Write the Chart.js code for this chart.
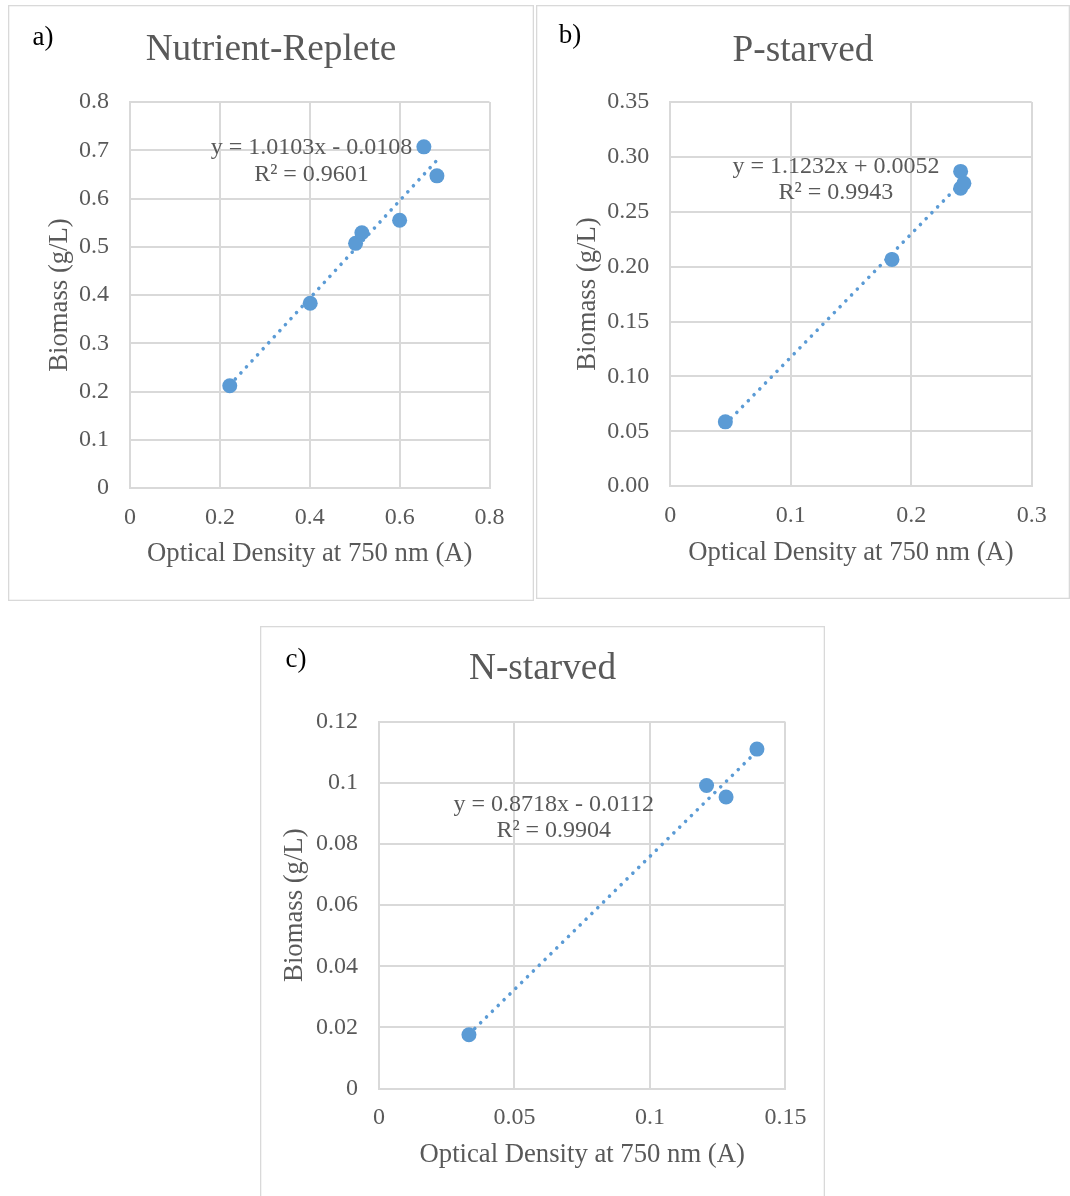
<!DOCTYPE html>
<html><head><meta charset="utf-8">
<script src="https://cdn.jsdelivr.net/npm/chart.js@4.4.1/dist/chart.umd.min.js"></script>
<style>
html,body{margin:0;padding:0;background:#fff;width:1070px;height:1196px;overflow:hidden}
.p{position:absolute}
canvas{display:block}
</style></head><body>
<div class="p" style="left:8px;top:5px"><canvas id="ca" width="526" height="596"></canvas></div>
<div class="p" style="left:536px;top:5px"><canvas id="cb" width="534" height="594"></canvas></div>
<div class="p" style="left:260px;top:626px"><canvas id="cc" width="565" height="570"></canvas></div>
<script>
// ---- data ----
const titleA = 'Nutrient-Replete';
const titleB = 'P-starved';
const titleC = 'N-starved';
const xAxisTitle = 'Optical Density at 750 nm (A)';
const yAxisTitle = 'Biomass (g/L)';

const odA = [0.222, 0.401, 0.502, 0.516, 0.600, 0.654, 0.683];
const bmA = [0.212, 0.383, 0.507, 0.529, 0.555, 0.707, 0.647];
const fitA = [1.0103, -0.0108];
const eqA = ['y = 1.0103x - 0.0108', 'R\u00B2 = 0.9601'];
const xTickValA = [0, 0.2, 0.4, 0.6, 0.8];
const xTickLabA = ['0', '0.2', '0.4', '0.6', '0.8'];
const yTickValA = [0, 0.1, 0.2, 0.3, 0.4, 0.5, 0.6, 0.7, 0.8];
const yTickLabA = ['0', '0.1', '0.2', '0.3', '0.4', '0.5', '0.6', '0.7', '0.8'];

const odB = [0.0457, 0.1840, 0.2410, 0.2410, 0.2437];
const bmB = [0.0586, 0.2066, 0.2868, 0.2714, 0.2759];
const fitB = [1.1232, 0.0052];
const eqB = ['y = 1.1232x + 0.0052', 'R\u00B2 = 0.9943'];
const xTickValB = [0, 0.1, 0.2, 0.3];
const xTickLabB = ['0', '0.1', '0.2', '0.3'];
const yTickValB = [0, 0.05, 0.10, 0.15, 0.20, 0.25, 0.30, 0.35];
const yTickLabB = ['0.00', '0.05', '0.10', '0.15', '0.20', '0.25', '0.30', '0.35'];

const odC = [0.0332, 0.1209, 0.1281, 0.1395];
const bmC = [0.0176, 0.0992, 0.0954, 0.1111];
const fitC = [0.8718, -0.0112];
const eqC = ['y = 0.8718x - 0.0112', 'R\u00B2 = 0.9904'];
const xTickValC = [0, 0.05, 0.1, 0.15];
const xTickLabC = ['0', '0.05', '0.1', '0.15'];
const yTickValC = [0, 0.02, 0.04, 0.06, 0.08, 0.1, 0.12];
const yTickLabC = ['0', '0.02', '0.04', '0.06', '0.08', '0.1', '0.12'];

// ---- styling ----
const FONT = "'Liberation Serif','Times New Roman',serif";
const TXT = '#595959';
const GRID = '#d9d9d9';
const BLUE = '#5b9bd5';

const deco = {
  id: 'deco',
  beforeDraw(chart, args, o) {
    const c = chart.ctx, w = chart.width, h = chart.height;
    c.save();
    c.fillStyle = '#fff'; c.fillRect(0, 0, w, h);
    c.strokeStyle = GRID; c.lineWidth = 1.3;
    c.strokeRect(0.65, 0.65, w - 1.3, h - 1.3 + (o.openBottom ? 4 : 0));
    c.restore();
  },
  afterDatasetsDraw(chart, args, o) {
    const c = chart.ctx;
    const xs = chart.scales.x, ys = chart.scales.y;
    c.save();
    c.fillStyle = TXT; c.font = '24px ' + FONT;
    c.textAlign = 'center'; c.textBaseline = 'middle';
    const px = xs.getPixelForValue(o.eqAt[0]), py = ys.getPixelForValue(o.eqAt[1]);
    o.eq.forEach((t, i) => c.fillText(t, px, py + i * o.eqGap));
    c.fillStyle = '#000'; c.font = '27px ' + FONT;
    c.fillText(o.label, o.labelPos[0], o.labelPos[1]);
    c.restore();
  }
};

function makeChart(id, cfg) {
  const W = cfg.W, H = cfg.H, A = cfg.area; // area: [left, right, top, bottom]
  const tl = 37.3 * 1.2;
  const pts = cfg.od.map((v, i) => ({x: v, y: cfg.bm[i]}));
  const xmin = Math.min(...cfg.od), xmax = Math.max(...cfg.od);
  const trend = [xmin, xmax].map(v => ({x: v, y: cfg.fit[0] * v + cfg.fit[1]}));
  return new Chart(document.getElementById(id), {
    type: 'scatter',
    data: {datasets: [
      {type: 'scatter', data: pts, backgroundColor: BLUE, borderColor: BLUE, borderWidth: 0, pointRadius: 7.5, order: 1},
      {type: 'line', data: trend, borderColor: BLUE, borderWidth: 3.6, borderDash: [0.01, 8.2], borderCapStyle: 'round', pointRadius: 0, fill: false, order: 2}
    ]},
    options: {
      responsive: false, animation: false, devicePixelRatio: 1, events: [],
      layout: {padding: 0},
      plugins: {
        legend: {display: false}, tooltip: {enabled: false},
        title: {display: true, text: cfg.title, color: TXT, font: {family: FONT, size: 37.3, weight: 'normal', lineHeight: 1.2},
          padding: {top: cfg.titleY - tl / 2, bottom: A[2] - (cfg.titleY - tl / 2) - tl}},
        deco: {label: cfg.label, labelPos: cfg.labelPos, eq: cfg.eq, eqAt: cfg.eqAt, eqGap: cfg.eqGap, openBottom: cfg.openBottom}
      },
      scales: {
        x: {
          type: 'linear', min: cfg.xv[0], max: cfg.xv[cfg.xv.length - 1],
          afterBuildTicks: s => { s.ticks = cfg.xv.map(v => ({value: v})); },
          afterFit: s => { s.height = H - A[3]; },
          ticks: {callback: (v, i) => cfg.xl[i], color: TXT, font: {family: FONT, size: 24}, padding: 15, maxRotation: 0, autoSkip: false},
          grid: {color: GRID, lineWidth: 2, drawTicks: false},
          border: {color: GRID, width: 2},
          title: {display: true, text: xAxisTitle, color: TXT, font: {family: FONT, size: 26.7, lineHeight: 1.2},
            padding: {top: 0, bottom: (H - A[3]) - cfg.xTitleOff - 16}}
        },
        y: {
          type: 'linear', min: cfg.yv[0], max: cfg.yv[cfg.yv.length - 1],
          afterBuildTicks: s => { s.ticks = cfg.yv.map(v => ({value: v})); },
          afterFit: s => { s.width = A[0]; },
          ticks: {callback: (v, i) => cfg.yl[i], color: TXT, font: {family: FONT, size: 24}, padding: 21, autoSkip: false},
          grid: {color: GRID, lineWidth: 2, drawTicks: false},
          border: {color: GRID, width: 2},
          title: {display: true, text: yAxisTitle, color: TXT, font: {family: FONT, size: 26.7, lineHeight: 1.2},
            padding: {top: cfg.yTitleX - 16, bottom: 0}}
        },
        spacer: {
          type: 'linear', position: 'right', display: true, min: 0, max: 1,
          afterFit: s => { s.width = W - A[1]; },
          ticks: {display: false}, grid: {display: false, drawOnChartArea: false}, border: {display: false},
          title: {display: false}
        }
      }
    },
    plugins: [deco]
  });
}

makeChart('ca', {W: 526, H: 596, area: [122, 481.5, 97, 483], title: titleA, titleY: 45,
  od: odA, bm: bmA, fit: fitA, eq: eqA, eqAt: [0.4039, 0.7047], eqGap: 27,
  xv: xTickValA, xl: xTickLabA, yv: yTickValA, yl: yTickLabA,
  xTitleOff: 66, yTitleX: 51.5, label: 'a)', labelPos: [35, 33]});

makeChart('cb', {W: 534, H: 594, area: [134.3, 495.7, 97, 481.2], title: titleB, titleY: 45.7,
  od: odB, bm: bmB, fit: fitB, eq: eqB, eqAt: [0.1375, 0.2911], eqGap: 26,
  xv: xTickValB, xl: xTickLabB, yv: yTickValB, yl: yTickLabB,
  xTitleOff: 66.8, yTitleX: 51.8, label: 'b)', labelPos: [34, 31]});

makeChart('cc', {W: 565, H: 570, area: [119, 525.4, 95.9, 462.5], title: titleC, titleY: 43,
  od: odC, bm: bmC, fit: fitC, eq: eqC, eqAt: [0.0645, 0.0928], eqGap: 26,
  xv: xTickValC, xl: xTickLabC, yv: yTickValC, yl: yTickLabC,
  xTitleOff: 66.5, yTitleX: 35, label: 'c)', labelPos: [36, 34], openBottom: true});
</script>
</body></html>
